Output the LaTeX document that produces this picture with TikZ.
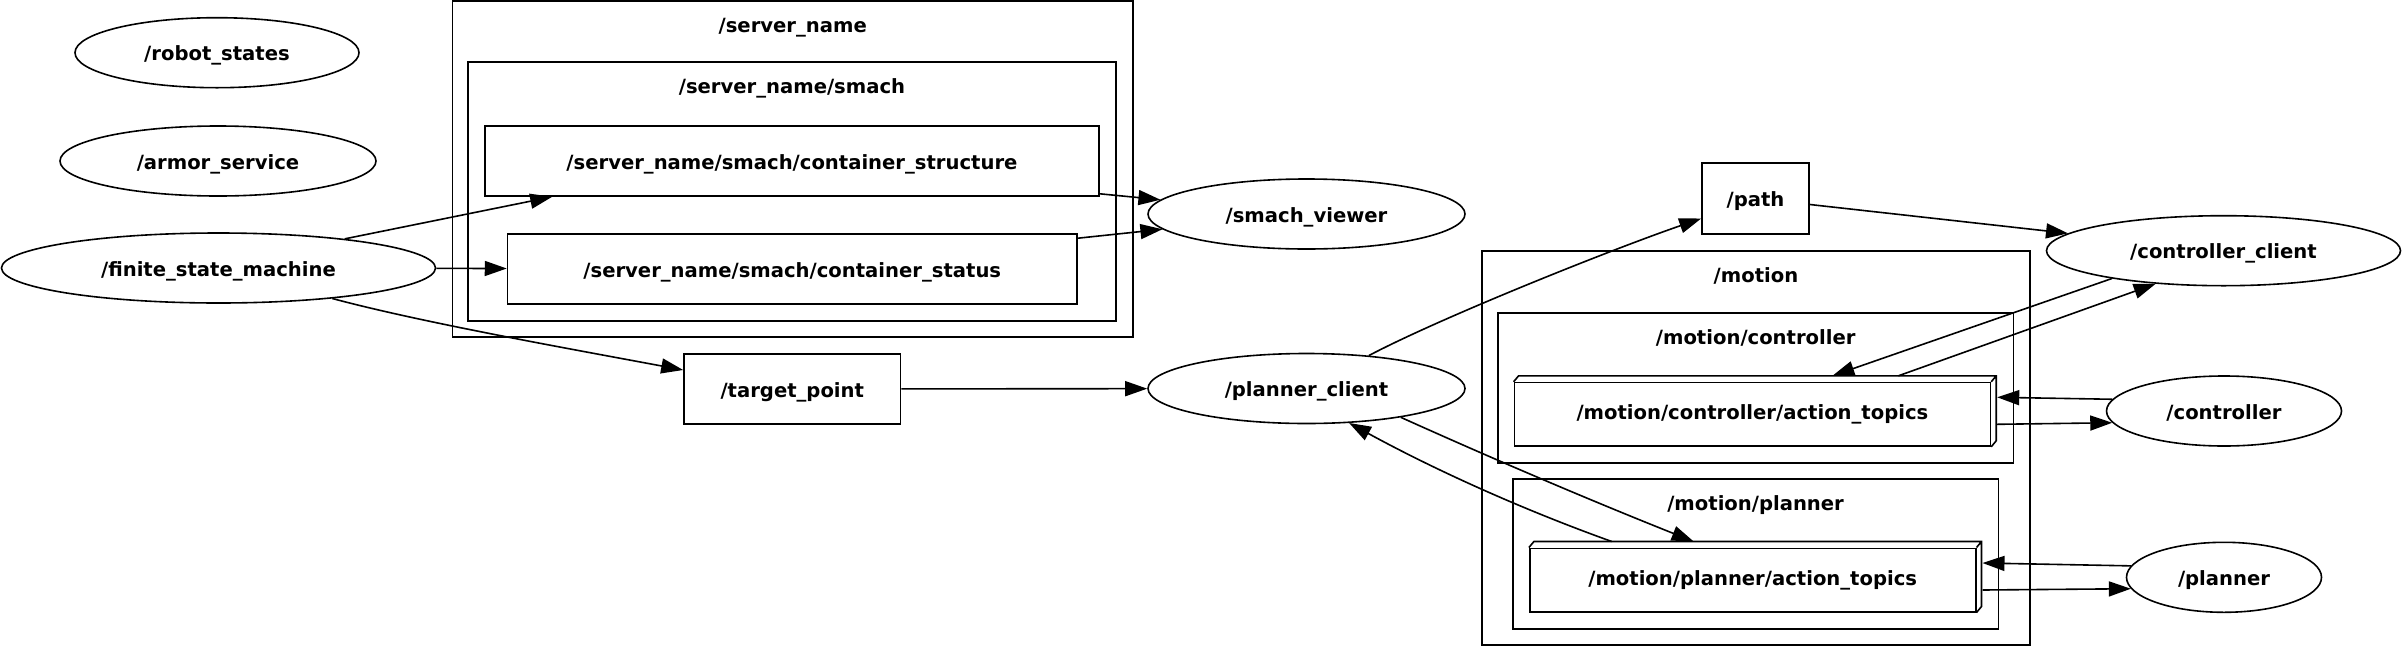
\documentclass[tikz,border=0pt]{standalone}
\usepackage{fontspec}
\setmainfont{DejaVu Sans}
\usetikzlibrary{shapes.geometric,arrows.meta}

\def\serverbox{(452.5,1) rectangle (1133,337)}
\def\smachbox{(468,62) rectangle (1116,321)}
\def\motionbox{(1482,250.7) rectangle (2030,645)}
\def\controllerbox{(1498,312.7) rectangle (2013.5,462.7)}
\def\plannerbox{(1512.7,479) rectangle (1998.5,629)}
\def\extrude#1{\draw (#1.north west) -- ++(5,-6) -- ([shift={(5,-6)}]#1.north east)
    -- ([shift={(5,-6)}]#1.south east) -- (#1.south east) (#1.north east) -- ++(5,-6);}
\tikzset{rosnode/.style={draw, ellipse, minimum height=70pt, inner sep=0pt},
    topic/.style={draw, rectangle, minimum height=70pt, inner sep=0pt},
    action/.style={draw, rectangle, minimum height=63.4pt, inner sep=0pt, text height=10pt},
    grouptitle/.style={anchor=base},
    edge/.style={-{Triangle[length=22pt,width=15pt]}}}

\begin{document}
\begin{tikzpicture}[x=1pt, y=-1pt, line width=1.6pt,
    every node/.style={font=\bfseries\fontsize{19.6}{23}\selectfont, text height=16pt, text depth=0pt}]

    \useasboundingbox (0,0) rectangle (2402,646);

    % groups
    \draw \serverbox;
    \draw \smachbox;
    \draw \motionbox;
    \draw \controllerbox;
    \draw \plannerbox;
    \node[grouptitle] (servertitle) at (792.75,32.5) {/server\_name};
    \node[grouptitle] (smachtitle) at (792,93.5) {/server\_name/smach};
    \node[grouptitle] (motiontitle) at (1756,282.2) {/motion};
    \node[grouptitle] (controllertitle) at (1755.75,344.2) {/motion/controller};
    \node[grouptitle] (plannertitle) at (1755.6,510.5) {/motion/planner};

    % nodes and topics
    \node[rosnode, minimum width=284pt] (robotstates) at (217,52.7) {/robot\_states};
    \node[rosnode, minimum width=316pt] (armor) at (218,161) {/armor\_service};
    \node[rosnode, minimum width=434pt] (fsm) at (218.5,268) {/finite\_state\_machine};
    \node[topic, minimum width=614pt] (structure) at (792,161) {/server\_name/smach/container\_structure};
    \node[topic, minimum width=569.5pt] (status) at (792.3,269) {/server\_name/smach/container\_status};
    \node[topic, minimum width=216.6pt] (target) at (792.3,389) {/target\_point};
    \node[rosnode, minimum width=317pt] (viewer) at (1306.5,214) {/smach\_viewer};
    \node[rosnode, minimum width=317pt] (pclient) at (1306.5,388.5) {/planner\_client};
    \node[topic, minimum width=107pt, minimum height=71pt] (path) at (1755.5,198.5) {/path};
    \node[rosnode, minimum width=354pt] (cclient) at (2223.5,250.7) {/controller\_client};
    \node[action, minimum width=476pt] (ctrlact) at (1752.4,414.3) {/motion/controller/action\_topics};
    \node[action, minimum width=446pt] (planact) at (1752.7,580) {/motion/planner/action\_topics};
    \node[rosnode, minimum width=235pt] (ctrl) at (2224,411) {/controller};
    \node[rosnode, minimum width=195pt] (planner) at (2224,577.3) {/planner};
    \extrude{ctrlact}
    \extrude{planact}

    % connections
    \draw[edge] (fsm.13) -- ([shift={(68,0)}]structure.south west);
    \draw[edge] (fsm) -- (status);
    \draw[edge] (fsm) .. controls (420,322) and (560,347) .. ([shift={(0,-19)}]target.west);
    \draw[edge] ([shift={(0,-3)}]structure.south east) -- (viewer);
    \draw[edge] ([shift={(0,5)}]status.north east) -- (viewer);
    \draw[edge] (target) -- (pclient);
    \draw[edge] (pclient) .. controls (1440,318) and (1610,250) .. ([shift={(0,20)}]path.west);
    \draw[edge] ([shift={(0,6)}]path.east) -- (cclient);
    \draw[edge] (cclient.194) -- ([shift={(80,-6)}]ctrlact.north);
    \draw[edge] ([shift={(146,-6)}]ctrlact.north) -- (cclient.206);
    \draw[edge] (ctrl.174) -- ([shift={(6,-17)}]ctrlact.east);
    \draw[edge] ([shift={(6,10)}]ctrlact.east) -- (ctrl.186);
    \draw[edge] (pclient.-17) .. controls (1500,462) and (1597,503) .. ([shift={(-59,-6)}]planact.north);
    \draw[edge] ([shift={(-141,-6)}]planact.north) .. controls (1524,510) and (1437,471) .. (pclient.-39);
    \draw[edge] (planner.173) -- ([shift={(6,-17)}]planact.east);
    \draw[edge] ([shift={(6,10)}]planact.east) -- (planner.187);

\end{tikzpicture}
\end{document}
